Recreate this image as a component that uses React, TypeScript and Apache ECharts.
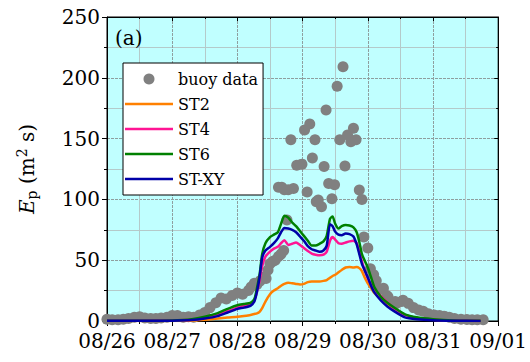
import React, { useEffect, useRef } from "react";
import * as echarts from "echarts";

const xTickLabels = ["08/26", "08/27", "08/28", "08/29", "08/30", "08/31", "09/01"];

const buoyDays = [
  0.0, 0.08, 0.17, 0.25, 0.33, 0.42, 0.5, 0.58, 0.67, 0.75, 0.83, 0.92, 1.0, 1.08, 1.17, 1.25, 1.33, 1.42,
  1.5, 1.58, 1.67, 1.75, 1.83, 1.92, 2.0, 2.08, 2.17, 2.21, 2.26, 2.3, 2.35, 2.4, 2.44, 2.47, 2.5, 2.54,
  2.58, 2.63, 2.63, 2.67, 2.68, 2.71, 2.72, 2.76, 2.78, 2.82, 2.86, 2.91, 2.99, 3.03, 3.07, 3.11, 3.15,
  3.19, 3.21, 3.24, 3.29, 3.33, 3.36, 3.4, 3.45, 3.49, 3.53, 3.57, 3.62, 3.65, 3.69, 3.74, 3.78, 3.82,
  3.87, 3.91, 3.94, 4.0, 4.04, 4.09, 4.13, 4.17, 4.24, 4.29, 4.31, 4.34, 4.42, 4.44, 4.52, 4.54, 4.62,
  4.7, 4.78, 4.85, 4.93, 5.02, 5.1, 5.17, 5.25, 5.33, 5.43, 5.52, 5.6, 5.68, 5.77,
];
const buoyValues = [
  1.5, 1, 1, 1.5, 2, 3, 3.5, 2.5, 2, 2, 2.5, 3, 4.5, 4.5, 3, 3.5, 3, 5,
  7, 11, 15, 19, 18, 21, 23, 22, 25, 28, 31, 30, 33, 36, 35, 42, 47, 49,
  50, 53, 110, 55, 110, 58, 108, 83, 108, 149, 109, 128, 129, 157, 106, 162, 134,
  149, 98, 99.5, 94, 127, 173.5, 113, 100.6, 112, 193, 149, 209, 127.5, 153, 147.5, 158.5, 149,
  107.7, 100, 69, 60, 43, 38, 33, 26, 27, 21, 20, 16, 16, 14.5, 16, 17, 14.5,
  11, 9, 8, 6, 5, 4.5, 4, 3, 2, 1.5, 1.2, 1, 1, 1,
];

const lineDays = [
  0, 0.5, 1.0, 1.3, 1.5, 1.7, 1.85, 2.0, 2.1, 2.2, 2.26, 2.3, 2.34, 2.38, 2.43, 2.5, 2.56, 2.62, 2.67,
  2.72, 2.78, 2.84, 2.9, 2.96, 3.02, 3.08, 3.14, 3.2, 3.26, 3.32, 3.37, 3.42, 3.46, 3.5, 3.55, 3.6, 3.66,
  3.72, 3.78, 3.83, 3.87, 3.91, 3.95, 4.0, 4.05, 4.1, 4.2, 4.3, 4.42, 4.57, 4.75, 5.0, 5.3, 5.73,
];
const st2Values = [
  0, 0, 0, 0.3, 1, 2, 2.8, 3.5, 4.2, 5, 5.8, 6.3, 7.5, 10.5, 16, 22, 25, 27, 29,
  30.5, 31.5, 31, 30.5, 30, 30.5, 32, 32.5, 32.5, 32.5, 33, 33.7, 35.5, 37, 38, 40, 42, 44,
  44.5, 44, 44.5, 43.5, 41, 36, 31, 27, 23, 18, 13.5, 9, 5, 2.5, 1, 0.3, 0.1,
];
const st4Values = [
  0.3, 0.3, 0.5, 1, 2.5, 5, 8, 11, 12.5, 14, 17, 24, 33, 45, 53, 57, 59.5, 61, 64,
  66.5, 62.5, 63.5, 64.5, 62.5, 60, 57.5, 55.5, 54.5, 54, 54.5, 57, 66, 69, 67, 64, 63.5, 64.5,
  65.5, 66, 64, 57, 49, 42, 35, 30, 26.5, 20.5, 15.5, 9.5, 5, 2.5, 1, 0.3, 0.1,
];
const st6Values = [
  0.3, 0.3, 0.5, 1.5, 3.5, 6.5, 10, 13, 14, 15, 18, 27, 38, 55, 64, 69, 71, 73, 80,
  86.5, 85, 81, 78, 74, 70, 66, 62, 62, 63.5, 65.5, 70, 84, 86, 80, 76, 78, 79,
  78.5, 77, 73, 65, 55, 50, 44, 36, 28, 20, 15, 10.5, 5.5, 3, 1.5, 0.5, 0.2,
];
const stxyValues = [
  0.2, 0.2, 0.3, 0.8, 2, 4, 7, 10, 11, 12.5, 16, 24, 36, 52, 58, 61, 64, 68, 73,
  76.5, 76, 75, 73, 69.5, 66, 61.5, 59, 58, 57, 58, 62, 79.5, 78, 73.5, 71, 70.5, 72,
  71.5, 69.5, 63, 55, 47, 42, 36, 29, 23.5, 17, 12, 7.5, 3, 1.5, 0.6, 0.2, 0.1,
];

const FONT = "DejaVu Serif";
const LINE_ICON = "path://M0,0L48,0L48,2.6L0,2.6Z";

export default function App() {
  const ref = useRef<HTMLDivElement>(null);
  useEffect(() => {
    if (!ref.current) return;
    const chart = echarts.init(ref.current, undefined, { renderer: "svg" });
    const pair = (vals: number[]) => lineDays.map((d, i) => [d, vals[i]]);
    const lineSeries = (name: string, vals: number[], color: string) => ({
      name,
      type: "line",
      data: pair(vals),
      symbol: "none",
      showSymbol: false,
      smooth: 0.2,
      lineStyle: { color, width: 2.5 },
      itemStyle: { color },
      z: 3,
    });
    const majorGrid = { show: true, lineStyle: { color: "#8f9f9f", width: 1, type: [3, 1] } };
    const minorGrid = { show: true, lineStyle: { color: "#b4caca", width: 1 } };
    chart.setOption({
      animation: false,
      textStyle: { fontFamily: FONT },
      title: {
        text: "(a)",
        left: 115,
        top: 28,
        padding: 0,
        textStyle: { fontFamily: FONT, fontSize: 20, color: "#000", fontWeight: "normal" },
      },
      grid: {
        left: 107,
        right: 24,
        top: 17,
        bottom: 41,
        show: true,
        backgroundColor: "#C0FFFF",
        borderColor: "#000",
        borderWidth: 1,
      },
      legend: {
        orient: "vertical",
        left: 123,
        top: 63,
        itemWidth: 48,
        itemHeight: 11,
        itemGap: 5,
        padding: [6, 5, 6, 2],
        backgroundColor: "#fff",
        borderColor: "#000",
        borderWidth: 1,
        borderRadius: 0,
        textStyle: { fontFamily: FONT, fontSize: 16, color: "#000", lineHeight: 20 },
        data: [
          { name: "buoy data", icon: "circle" },
          { name: "ST2", icon: LINE_ICON },
          { name: "ST4", icon: LINE_ICON },
          { name: "ST6", icon: LINE_ICON },
          { name: "ST-XY", icon: LINE_ICON },
        ],
      },
      xAxis: [
        {
          type: "value",
          min: 0,
          max: 6,
          interval: 1,
          position: "bottom",
          axisLine: { show: true, onZero: false, lineStyle: { color: "#000", width: 1 } },
          axisTick: { show: true, length: 5, lineStyle: { color: "#000" } },
          minorTick: { show: true, splitNumber: 2, length: 3, lineStyle: { color: "#000" } },
          axisLabel: {
            fontFamily: FONT,
            fontSize: 20,
            lineHeight: 20,
            color: "#000",
            margin: 10,
            formatter: (v: number) => xTickLabels[Math.round(v)] ?? "",
          },
          splitLine: majorGrid,
          minorSplitLine: minorGrid,
        },
        {
          type: "value",
          min: 0,
          max: 6,
          interval: 1,
          position: "top",
          axisLine: { show: true, onZero: false, lineStyle: { color: "#000", width: 1 } },
          axisTick: { show: true, inside: true, length: 4, lineStyle: { color: "#000" } },
          minorTick: { show: true, splitNumber: 2, length: 2, lineStyle: { color: "#000" } },
          axisLabel: { show: false },
          splitLine: { show: false },
        },
      ],
      yAxis: [
        {
          type: "value",
          min: 0,
          max: 250,
          interval: 50,
          position: "left",
          axisLine: { show: true, onZero: false, lineStyle: { color: "#000", width: 1 } },
          axisTick: { show: true, length: 5, lineStyle: { color: "#000" } },
          minorTick: { show: true, splitNumber: 2, length: 3, lineStyle: { color: "#000" } },
          axisLabel: { fontFamily: FONT, fontSize: 20, lineHeight: 16, color: "#000", margin: 7 },
          splitLine: majorGrid,
          minorSplitLine: minorGrid,
          name: "{i|E}{sub|p} (m{sup|2} s)",
          nameLocation: "middle",
          nameRotate: 90,
          nameGap: 68,
          nameTextStyle: {
            fontFamily: FONT,
            fontSize: 20,
            color: "#000",
            lineHeight: 24,
            rich: {
              i: { fontFamily: FONT, fontSize: 20, fontStyle: "italic", color: "#000", lineHeight: 24 },
              sub: { fontFamily: FONT, fontSize: 14, color: "#000", verticalAlign: "bottom", lineHeight: 13 },
              sup: { fontFamily: FONT, fontSize: 14, color: "#000", verticalAlign: "top", lineHeight: 13 },
            },
          },
        },
        {
          type: "value",
          min: 0,
          max: 250,
          interval: 50,
          position: "right",
          axisLine: { show: true, onZero: false, lineStyle: { color: "#000", width: 1 } },
          axisTick: { show: true, inside: true, length: 4, lineStyle: { color: "#000" } },
          minorTick: { show: true, splitNumber: 2, length: 2, lineStyle: { color: "#000" } },
          axisLabel: { show: false },
          splitLine: { show: false },
        },
      ],
      series: [
        {
          name: "buoy data",
          type: "scatter",
          data: buoyDays.map((d, i) => [d, buoyValues[i]]),
          symbol: "circle",
          symbolSize: 11,
          itemStyle: { color: "#808080", opacity: 1 },
          z: 2,
        },
        lineSeries("ST2", st2Values, "#FF8000"),
        lineSeries("ST4", st4Values, "#FF1493"),
        lineSeries("ST6", st6Values, "#008000"),
        lineSeries("ST-XY", stxyValues, "#0000A8"),
      ],
    });
    return () => chart.dispose();
  }, []);
  return (
    <div
      ref={ref}
      style={{ position: "fixed", left: 0, top: 0, width: 530, height: 362, background: "#fff" }}
    />
  );
}
